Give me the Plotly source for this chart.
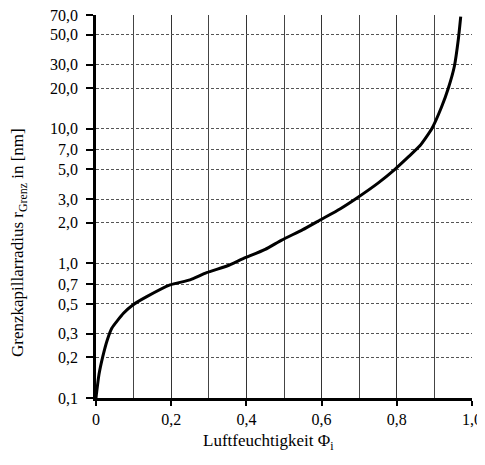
import plotly.graph_objects as go

# Data
phi = [0.0, 0.002, 0.008, 0.018, 0.03, 0.042, 0.073, 0.098, 0.135, 0.197, 0.25, 0.294,
       0.35, 0.39, 0.45, 0.494, 0.55, 0.596, 0.65, 0.693, 0.75, 0.795, 0.83, 0.862,
       0.893, 0.919, 0.937, 0.953, 0.964, 0.970]
r_grenz = [0.10, 0.112, 0.15, 0.203, 0.27, 0.330, 0.426, 0.491, 0.566, 0.692, 0.754, 0.853,
           0.96, 1.08, 1.27, 1.49, 1.78, 2.10, 2.55, 3.05, 3.95, 5.0, 6.15, 7.5,
           10.0, 14.5, 20.0, 29.0, 47.0, 68.0]

y_ticks = [0.1, 0.2, 0.3, 0.5, 0.7, 1.0, 2.0, 3.0, 5.0, 7.0, 10.0, 20.0, 30.0, 50.0, 70.0]
y_labels = ["0,1", "0,2", "0,3", "0,5", "0,7", "1,0", "2,0", "3,0", "5,0", "7,0",
            "10,0", "20,0", "30,0", "50,0", "70,0"]
x_ticks = [0, 0.2, 0.4, 0.6, 0.8, 1.0]
x_labels = ["0", "0,2", "0,4", "0,6", "0,8", "1,0"]

x_title = "Luftfeuchtigkeit Φ<sub>i</sub>"
y_title = "Grenzkapillarradius r<sub>Grenz</sub> in [nm]"

font_family = "Liberation Serif"

fig = go.Figure()
fig.add_trace(go.Scatter(x=phi, y=r_grenz, mode="lines",
                         line=dict(color="black", width=3, shape="spline", smoothing=0.5),
                         showlegend=False))

# page body has an 8px margin: compensate in figure size/margins
fig.update_layout(
    width=477, height=449,
    margin=dict(l=88, r=13, t=7, b=59),
    paper_bgcolor="white", plot_bgcolor="white",
    font=dict(family=font_family, color="black", size=16),
    xaxis=dict(
        range=[0, 1.0], tickvals=x_ticks, ticktext=x_labels, automargin=False,
        ticklabeloverflow="allow",
        showline=True, linecolor="black", linewidth=2.5,
        ticks="outside", ticklen=5, tickwidth=1.5, tickcolor="black",
        showgrid=True, gridcolor="#333", gridwidth=1, griddash="solid",
        minor=dict(dtick=0.1, showgrid=True, gridcolor="#444", gridwidth=1, griddash="solid"),
        zeroline=False,
        tickfont=dict(family=font_family, size=16, color="black"),
    ),
    yaxis=dict(
        type="log", range=[-1, 1.8451], tickvals=y_ticks, ticktext=y_labels, automargin=False,
        ticklabeloverflow="allow",
        showline=True, linecolor="black", linewidth=2.5,
        ticks="outside", ticklen=7, tickwidth=1.5, tickcolor="black",
        ticklabelstandoff=5,
        showgrid=True, gridcolor="#555", gridwidth=1, griddash="3px,2px",
        zeroline=False,
        tickfont=dict(family=font_family, size=16, color="black"),
    ),
    annotations=[
        dict(text=x_title, xref="paper", yref="paper", x=0.459, y=-0.115,
             xanchor="center", yanchor="middle", showarrow=False,
             font=dict(family=font_family, size=17, color="black")),
        dict(text=y_title, xref="paper", yref="paper", x=-0.2048, y=0.4073,
             xanchor="center", yanchor="middle", textangle=-90, showarrow=False,
             font=dict(family=font_family, size=17, color="black")),
    ],
)

fig.write_html("out.html")
